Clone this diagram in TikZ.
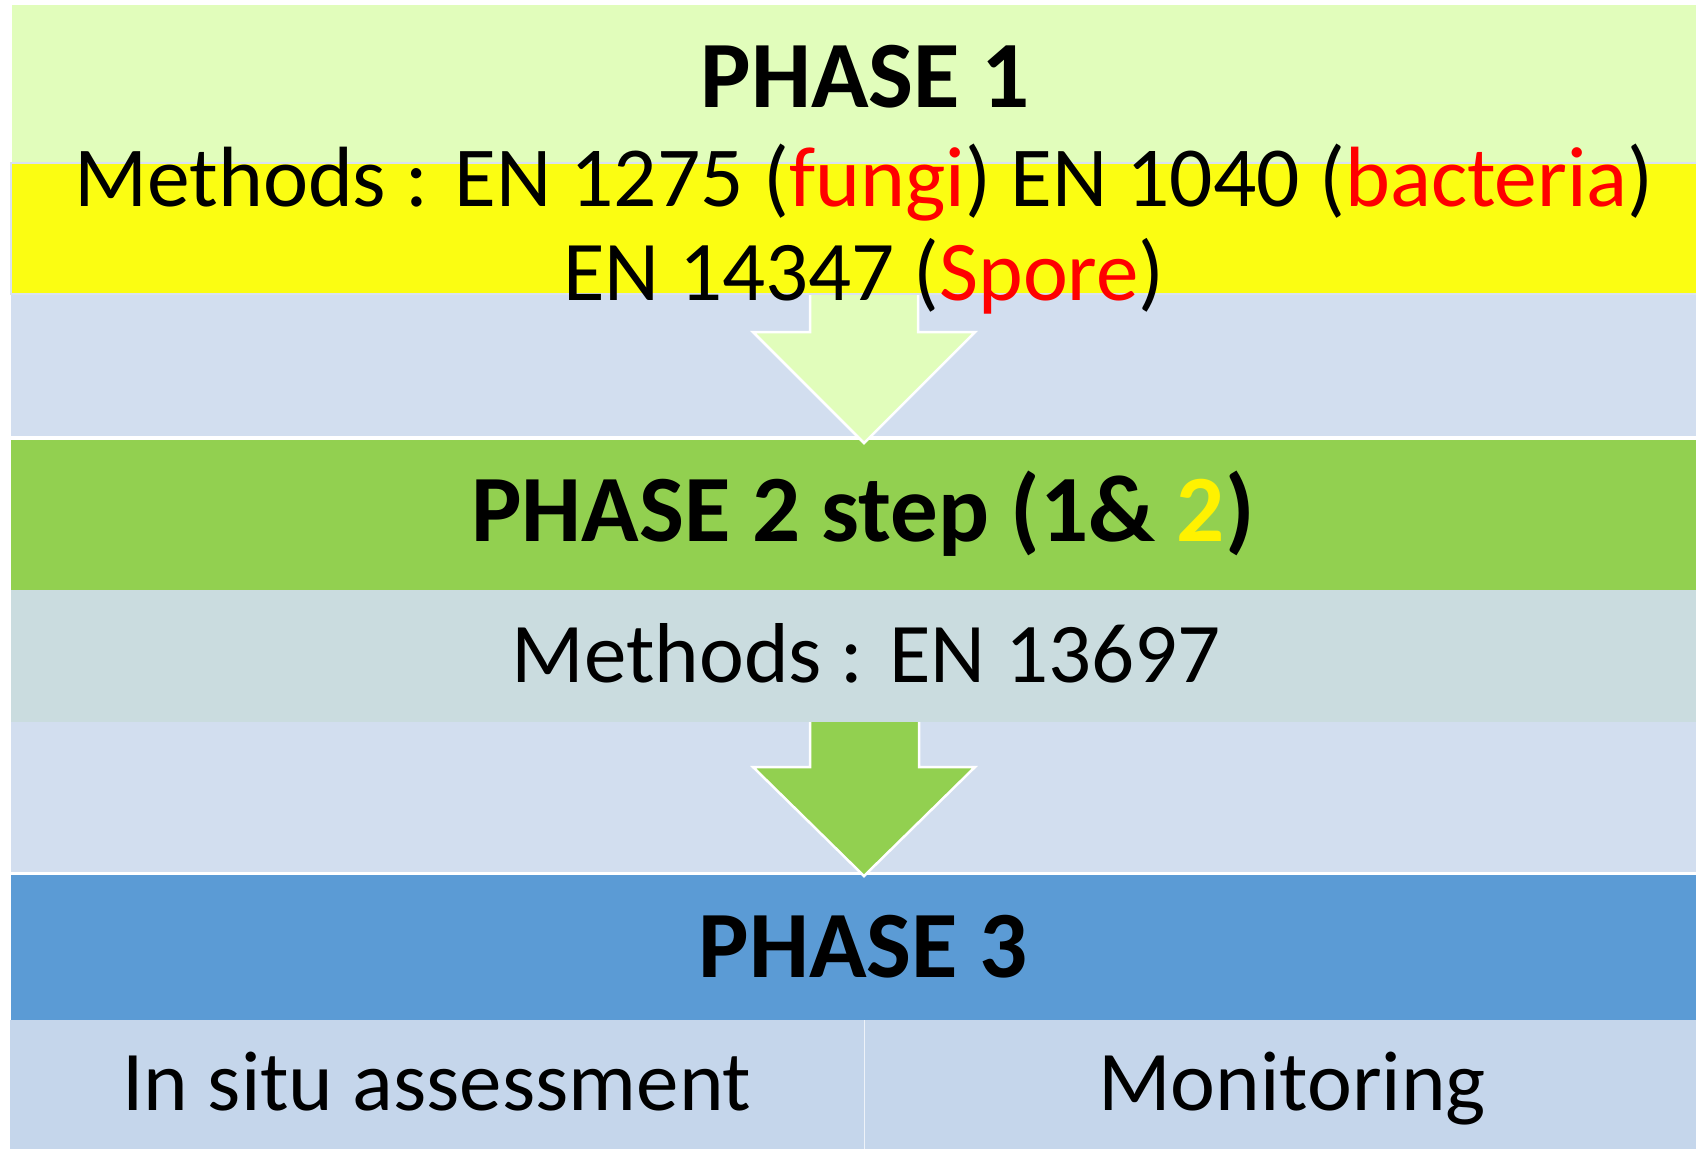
\documentclass[tikz,border=0pt]{standalone}
\usepackage{fontspec}
\setmainfont{Carlito}
\usetikzlibrary{calc}

\definecolor{paleGreen}{RGB}{225,253,187}
\definecolor{bandYellow}{RGB}{251,253,18}
\definecolor{paleBlue}{RGB}{210,222,239}
\definecolor{leafGreen}{RGB}{146,208,80}
\definecolor{paleTeal}{RGB}{202,220,223}
\definecolor{midBlue}{RGB}{91,155,213}
\definecolor{cellBlue}{RGB}{197,214,235}
\definecolor{edgeBlue}{RGB}{218,226,240}

\tikzset{
  band/.style={inner sep=0pt, outer sep=0pt, draw=none},
  headtext/.style={inner sep=0pt, anchor=base, font=\fontsize{95}{100}\selectfont\bfseries},
  bodytext/.style={inner sep=0pt, anchor=base, font=\fontsize{85}{90}\selectfont},
  blockarrow/.style={draw=white, line width=2.5pt, line join=miter},
}

\begin{document}
\begin{tikzpicture}[x=1pt, y=-1pt]
  \useasboundingbox (0,0) rectangle (1696,1149);
  \fill[white] (0,0) rectangle (1696,1149);

  % background bands
  \fill[paleGreen] (12,5) rectangle (1696,163);
  \fill[paleBlue]  (11,294) rectangle (1696,436);
  \fill[leafGreen] (11,440) rectangle (1696,590);
  \fill[paleBlue]  (11,722) rectangle (1696,872);
  \fill[midBlue]   (11,875) rectangle (1696,1020);
  \fill[cellBlue]  (10,1020) rectangle (1696,1149);
  \draw[white!70!cellBlue, line width=1.2pt] (864.5,1020) -- (864.5,1149);

  % named anchors for the arrow tips and shafts
  \coordinate (a1top) at (864,285);
  \coordinate (a1tip) at (864,443);
  \coordinate (a2top) at (864,715);
  \coordinate (a2tip) at (864,876);

  % block arrow from phase 1 to phase 2
  \draw[blockarrow, fill=paleGreen]
    ($(a1top)+(-54,0)$) -- ($(a1tip)+(-54,-111)$) -- ($(a1tip)+(-111,-111)$)
    -- (a1tip) -- ($(a1tip)+(111,-111)$) -- ($(a1tip)+(54,-111)$)
    -- ($(a1top)+(54,0)$);
  % block arrow from phase 2 to phase 3
  \draw[blockarrow, fill=leafGreen]
    ($(a2top)+(-54,0)$) -- ($(a2tip)+(-54,-109)$) -- ($(a2tip)+(-111,-109)$)
    -- (a2tip) -- ($(a2tip)+(111,-109)$) -- ($(a2tip)+(55,-109)$)
    -- ($(a2top)+(55,0)$);

  % method bands laid over the arrow shafts
  \draw[band, fill=bandYellow, draw=edgeBlue, line width=1.5pt]
    (11,163) rectangle (1700,294);
  \fill[paleTeal] (11,590) rectangle (1696,722);

  % texts
  \node[headtext] (p1) at (865,107.5) {PHASE 1};
  \node[bodytext, font=\fontsize{85.5}{90}\selectfont] (m1) at (864,206.7)
    {Methods : EN 1275 (\textcolor{red}{fungi}) EN 1040 (\textcolor{red}{bacteria})};
  \node[bodytext] (m1b) at (864,300.7)
    {EN 14347 (\textcolor{red}{Spore})};
  \node[headtext] (p2) at (863,541.7)
    {PHASE 2 step (1\& \textcolor{yellow}{2})};
  \node[bodytext] (m2) at (866,682) {Methods : EN 13697};
  \node[headtext] (p3) at (863,977) {PHASE 3};
  \node[bodytext] (c1) at (437,1110.7) {In situ assessment};
  \node[bodytext] (c2) at (1292,1110.7) {Monitoring};
\end{tikzpicture}
\end{document}
